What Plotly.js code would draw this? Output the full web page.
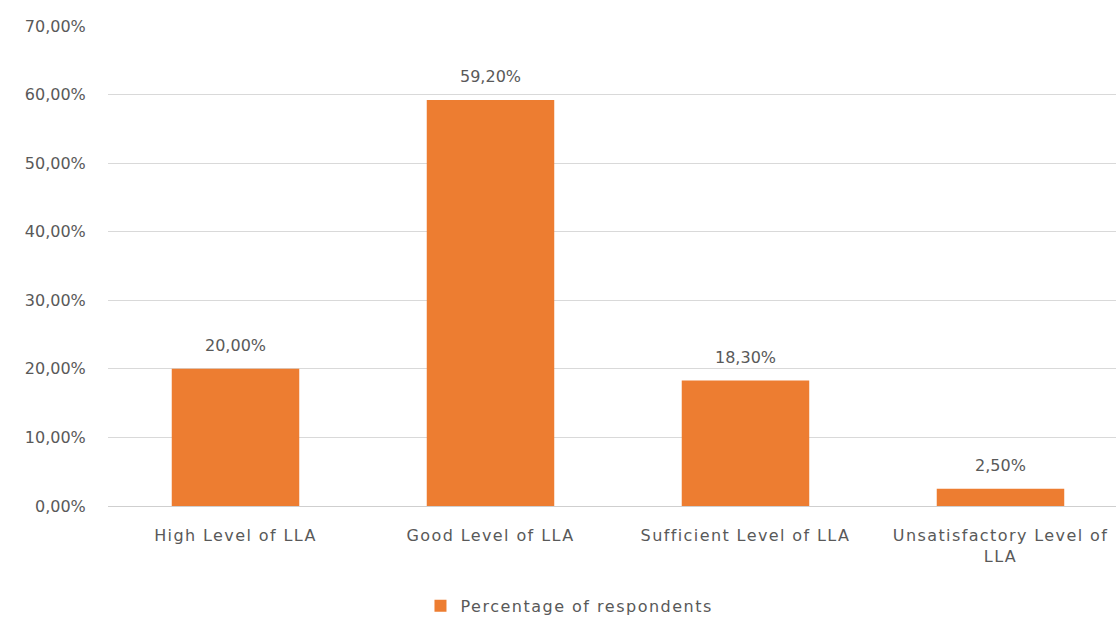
<!DOCTYPE html>
<html>
<head>
<meta charset="utf-8">
<script src="https://cdn.plot.ly/plotly-3.0.1.min.js"></script>
<style>
html,body{margin:0;padding:0;background:#fff;overflow:hidden;}
#chart{width:1116px;height:623px;}
.xtick text{letter-spacing:1.4px;}
.legendtext{letter-spacing:1.5px;}
</style>
</head>
<body>
<div id="chart"></div>
<script>
const categories = ["High Level of LLA", "Good Level of LLA", "Sufficient Level of LLA", "Unsatisfactory Level of<br>LLA"];
const values = [0.20, 0.592, 0.183, 0.025];
const valueLabels = ["20,00%", "59,20%", "18,30%", "2,50%"];
const seriesName = "Percentage of respondents";
const FONT = "'DejaVu Sans', Verdana, sans-serif";
const TXT = "#595959";

const trace = {
  type: "bar",
  x: [0, 1, 2, 3],
  y: values,
  name: seriesName,
  width: 0.5,
  marker: {color: "#ED7D31"},
  hoverinfo: "none",
  showlegend: true
};

const annotations = values.map((v, i) => ({
  x: i, y: v, xref: "x", yref: "y",
  text: valueLabels[i],
  showarrow: false,
  yanchor: "bottom",
  yshift: 12,
  font: {family: FONT, size: 16, color: TXT}
}));

const layout = {
  width: 1116,
  height: 623,
  margin: {l: 108, r: 0, t: 26, b: 111},
  paper_bgcolor: "#ffffff",
  plot_bgcolor: "#ffffff",
  separators: ",.",
  font: {family: FONT, size: 16, color: TXT},
  annotations: annotations,
  xaxis: {
    range: [-0.5, 3.453],
    tickvals: [0, 1, 2, 3],
    ticktext: categories,
    showgrid: false,
    zeroline: false,
    showline: false,
    ticks: "outside",
    ticklen: 15,
    tickcolor: "rgba(0,0,0,0)",
    tickfont: {family: FONT, size: 16, color: TXT},
    fixedrange: true
  },
  yaxis: {
    range: [0, 0.7],
    dtick: 0.1,
    tickformat: ".2%",
    showgrid: true,
    gridcolor: "#d9d9d9",
    gridwidth: 1,
    zeroline: true,
    zerolinecolor: "#cfcfcf",
    zerolinewidth: 1,
    showline: false,
    ticks: "outside",
    ticklen: 18,
    tickcolor: "rgba(0,0,0,0)",
    tickfont: {family: FONT, size: 16, color: TXT},
    fixedrange: true
  },
  legend: {
    orientation: "h",
    x: 0.31,
    xanchor: "left",
    y: -0.208,
    yanchor: "middle",
    font: {family: FONT, size: 16, color: TXT},
    itemwidth: 30
  }
};

Plotly.newPlot("chart", [trace], layout, {displayModeBar: false, staticPlot: true});
</script>
</body>
</html>
